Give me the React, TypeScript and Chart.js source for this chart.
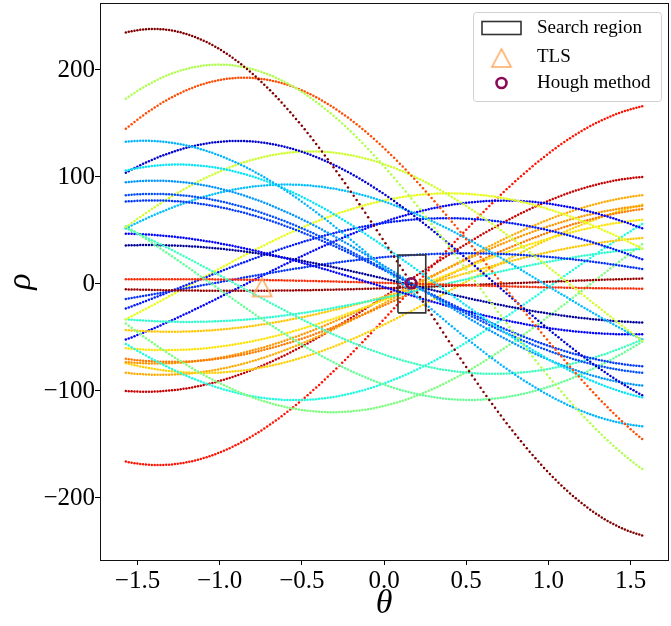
import React, { useEffect, useRef } from 'react';
import { Chart, registerables } from 'chart.js';

Chart.register(...registerables);

// Hough input points: rho(-pi/2) = -y, rho(0) = x, rho(pi/2) = y
const pointX = [40, 110, 127, 15, 35, 84, 17, 14, 13, 112, 77, -94, -66, -3, 5, 1, -4,
  25, 57, 78, -13, -114, -12, 58, -93, -15, -20, -14, -38, -18, -12, -33];
const pointY = [-235, -173, -145, -133, -106, -104, -95, -83, -77, -53, -52, -54, -52, -47, -36, -4.4, 5,
  14, 23, 33, 33, 37, 43, 52, 56, 60, 70, 73, 74, 83, 100, 166];
// position of each curve's colour on the jet colour map
const colorVal = [1.0, 0.56, 0.83, 0.3, 0.35, 0.07, 0.27, 0.2, 0.18, 0.6, 0.31, 0.47, 0.42, 0.12, 0.02, 0.87, 0.98,
  0.17, 0.15, 0.63, 0.4, 0.5, 0.7, 0.12, 0.38, 0.67, 0.78, 0.75, 0.69, 0.73, 0.94, 0.89];
const thetaSamples = 180;

const xTicks = [-1.5, -1.0, -0.5, 0.0, 0.5, 1.0, 1.5];
const yTicks = [-200, -100, 0, 100, 200];
const xLimits = [-1.728, 1.728];
const yLimits = [-258, 262.6];

const boxTheta = [0.085, 0.254];
const boxRho = [-27, 27];
const tlsTheta = [-0.741];
const tlsRho = [-3.3];
const houghTheta = [0.166];
const houghRho = [0.6];
const legendLabels = ['Search region', 'TLS', 'Hough method'];

const SERIF = '"Liberation Serif", "DejaVu Serif", serif';
const TLS_COLOR = '#ffa95e';
const HOUGH_COLOR = '#8b0a55';

const jetR = [[0, 0], [0.35, 0], [0.66, 1], [0.89, 1], [1, 0.5]];
const jetG = [[0, 0], [0.125, 0], [0.375, 1], [0.64, 1], [0.91, 0], [1, 0]];
const jetB = [[0, 0.5], [0.11, 1], [0.34, 1], [0.65, 0], [1, 0]];

function seg(s: number[][], v: number): number {
  for (let i = 1; i < s.length; i++) {
    if (v <= s[i][0]) {
      const [x0, y0] = s[i - 1];
      const [x1, y1] = s[i];
      return y0 + ((v - x0) / (x1 - x0)) * (y1 - y0);
    }
  }
  return s[s.length - 1][1];
}
function jet(v: number): string {
  const r = Math.round(seg(jetR, v) * 255);
  const g = Math.round(seg(jetG, v) * 255);
  const b = Math.round(seg(jetB, v) * 255);
  return `rgb(${r},${g},${b})`;
}

function triangleCanvas(): HTMLCanvasElement {
  const c = document.createElement('canvas');
  c.width = 24;
  c.height = 24;
  const ctx = c.getContext('2d')!;
  ctx.strokeStyle = TLS_COLOR;
  ctx.lineWidth = 1.6;
  ctx.lineJoin = 'miter';
  ctx.beginPath();
  ctx.moveTo(12, 3);
  ctx.lineTo(2.5, 21);
  ctx.lineTo(21.5, 21);
  ctx.closePath();
  ctx.stroke();
  return c;
}

const fmtX = (v: number) => (v < 0 ? '\u2212' : '') + Math.abs(v).toFixed(1);
const fmtY = (v: number) => (v < 0 ? '\u2212' : '') + Math.abs(v).toFixed(0);

export default function App() {
  const ref = useRef<HTMLCanvasElement>(null);

  useEffect(() => {
    if (!ref.current) return;
    const tri = triangleCanvas();
    const thetas: number[] = [];
    for (let i = 0; i < thetaSamples; i++) {
      thetas.push(-Math.PI / 2 + (Math.PI * i) / (thetaSamples - 1));
    }

    const curveSets = pointX.map((px, i) => ({
      type: 'scatter' as const,
      label: 'curve' + i,
      data: thetas.map((t) => ({ x: t, y: px * Math.cos(t) + pointY[i] * Math.sin(t) })),
      pointRadius: 1.25,
      pointBorderWidth: 0,
      pointBackgroundColor: jet(colorVal[i]),
      backgroundColor: jet(colorVal[i]),
      showLine: false,
      order: 2,
    }));

    const boxSet = {
      type: 'scatter' as const,
      label: legendLabels[0],
      data: [
        { x: boxTheta[0], y: boxRho[0] },
        { x: boxTheta[1], y: boxRho[0] },
        { x: boxTheta[1], y: boxRho[1] },
        { x: boxTheta[0], y: boxRho[1] },
        { x: boxTheta[0], y: boxRho[0] },
      ],
      showLine: true,
      borderColor: '#333333',
      borderWidth: 1.6,
      pointRadius: 0,
      fill: false,
      order: 1,
    };
    const tlsSet = {
      type: 'scatter' as const,
      label: legendLabels[1],
      data: tlsTheta.map((t, i) => ({ x: t, y: tlsRho[i] })),
      pointStyle: tri,
      pointRadius: 10,
      order: 0,
    };
    const houghSet = {
      type: 'scatter' as const,
      label: legendLabels[2],
      data: houghTheta.map((t, i) => ({ x: t, y: houghRho[i] })),
      pointStyle: 'circle',
      pointRadius: 5,
      borderWidth: 2.6,
      pointBorderColor: HOUGH_COLOR,
      pointBackgroundColor: 'rgba(0,0,0,0)',
      order: 0,
    };

    const framePlugin = {
      id: 'frameLegend',
      afterDraw(chart: any) {
        const { ctx, chartArea } = chart;
        ctx.save();
        ctx.strokeStyle = '#111';
        ctx.lineWidth = 1;
        ctx.strokeRect(
          Math.round(chartArea.left) + 0.5,
          Math.round(chartArea.top) + 0.5,
          Math.round(chartArea.right - chartArea.left),
          Math.round(chartArea.bottom - chartArea.top)
        );
        // legend
        const lx = 473.5, ly = 12.5, lw = 188, lh = 89, r = 3;
        ctx.beginPath();
        ctx.moveTo(lx + r, ly);
        ctx.arcTo(lx + lw, ly, lx + lw, ly + lh, r);
        ctx.arcTo(lx + lw, ly + lh, lx, ly + lh, r);
        ctx.arcTo(lx, ly + lh, lx, ly, r);
        ctx.arcTo(lx, ly, lx + lw, ly, r);
        ctx.closePath();
        ctx.fillStyle = 'rgba(255,255,255,0.8)';
        ctx.fill();
        ctx.strokeStyle = '#d0d0d0';
        ctx.lineWidth = 1;
        ctx.stroke();

        ctx.strokeStyle = '#333333';
        ctx.lineWidth = 1.6;
        ctx.strokeRect(482, 21.5, 39, 13);
        ctx.drawImage(tri, 501.5 - 12, 58 - 12);
        ctx.beginPath();
        ctx.arc(501.5, 83, 5, 0, Math.PI * 2);
        ctx.strokeStyle = HOUGH_COLOR;
        ctx.lineWidth = 2.6;
        ctx.stroke();

        ctx.fillStyle = '#000';
        ctx.font = `19px ${SERIF}`;
        ctx.textBaseline = 'middle';
        ctx.textAlign = 'left';
        ctx.fillText(legendLabels[0], 537, 28.5);
        ctx.fillText(legendLabels[1], 537, 57);
        ctx.fillText(legendLabels[2], 537, 83);
        ctx.restore();
      },
    };

    const chart = new Chart(ref.current, {
      type: 'scatter',
      data: { datasets: [houghSet, tlsSet, boxSet, ...curveSets] as any },
      options: {
        responsive: false,
        animation: false,
        events: [],
        layout: { autoPadding: false, padding: { top: 3, right: 3, left: 0, bottom: 0 } },
        plugins: { legend: { display: false }, tooltip: { enabled: false } },
        scales: {
          x: {
            type: 'linear',
            min: xLimits[0],
            max: xLimits[1],
            afterBuildTicks: (s: any) => {
              s.ticks = xTicks.map((v) => ({ value: v }));
            },
            afterFit: (s: any) => {
              s.height = 66;
              s.paddingLeft = 0;
              s.paddingRight = 0;
            },
            ticks: {
              callback: (v: any) => fmtX(Number(v)),
              font: { family: SERIF, size: 25 },
              color: '#000',
              padding: 1,
              maxRotation: 0,
              autoSkip: false,
            },
            grid: { drawOnChartArea: false, drawTicks: true, tickLength: 5, color: '#000', lineWidth: 1 },
            border: { display: true, color: '#111', width: 1 },
            title: {
              display: true,
              text: 'θ',
              font: { family: SERIF, size: 34, style: 'italic' },
              color: '#000',
              padding: { top: 0, bottom: 2 },
            },
          },
          y: {
            type: 'linear',
            min: yLimits[0],
            max: yLimits[1],
            afterBuildTicks: (s: any) => {
              s.ticks = yTicks.map((v) => ({ value: v }));
            },
            afterFit: (s: any) => {
              s.width = 100;
              s.paddingTop = 0;
              s.paddingBottom = 0;
            },
            ticks: {
              callback: (v: any) => fmtY(Number(v)),
              font: { family: SERIF, size: 25 },
              color: '#000',
              padding: 0,
              autoSkip: false,
            },
            grid: { drawOnChartArea: false, drawTicks: true, tickLength: 5, color: '#000', lineWidth: 1 },
            border: { display: true, color: '#111', width: 1 },
            title: {
              display: true,
              text: 'ρ',
              font: { family: SERIF, size: 34, style: 'italic' },
              color: '#000',
              padding: { top: 1, bottom: 0 },
            },
          },
        },
      },
      plugins: [framePlugin],
    } as any);

    return () => chart.destroy();
  }, []);

  return (
    <div style={{ position: 'absolute', left: 0, top: 0, width: 671, height: 626, background: '#fff' }}>
      <canvas ref={ref} width={671} height={626} style={{ width: 671, height: 626 }} />
    </div>
  );
}
